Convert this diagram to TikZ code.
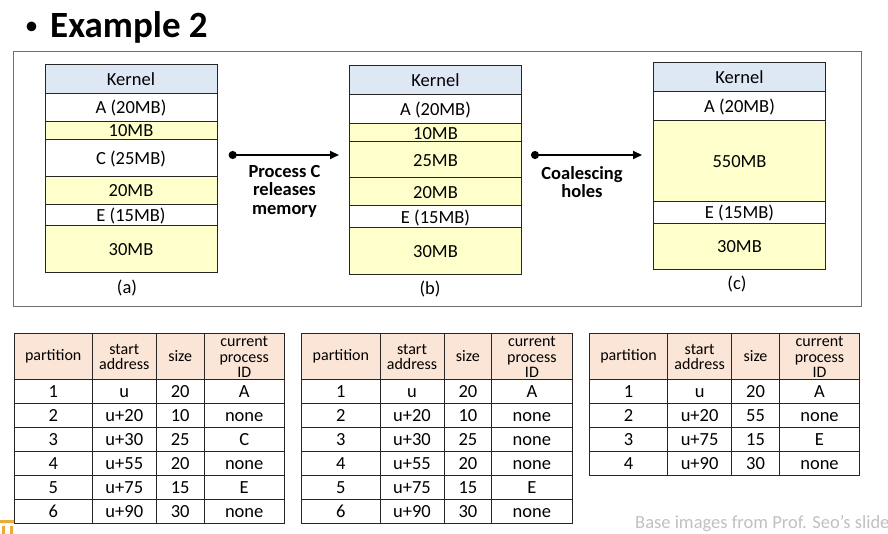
\documentclass[tikz,border=0pt]{standalone}
\usepackage{fontspec}
\setmainfont{Carlito}
\usetikzlibrary{arrows.meta}
\definecolor{kernelblue}{HTML}{DEE8F5}
\definecolor{holeyellow}{HTML}{FFFFCC}
\definecolor{headpeach}{HTML}{FBE5D6}
\definecolor{framegray}{HTML}{6F6F6F}
\definecolor{notegray}{HTML}{C0C0C0}
\definecolor{logoorange}{HTML}{F2A93B}
\begin{document}
\begin{tikzpicture}[x=1pt,y=-1pt,font=\fontsize{18.5}{18.5}\selectfont,
  seg/.style={draw=black!85,line width=0.8pt},
  lbl/.style={inner sep=0pt,text height=11.5pt,text depth=0pt},
  hd/.style={font=\fontsize{16}{15.5}\selectfont,align=center,inner sep=0pt},
  cell/.style={inner sep=0pt,text height=11.5pt,text depth=0pt},
  grid/.style={draw=black!85,line width=0.9pt},
  relarrow/.style={line width=2pt,arrows={Circle[length=8pt]-Stealth[length=9pt,width=8pt,inset=0pt]}},
  actnote/.style={font=\bfseries\fontsize{18.5}{18.5}\selectfont,align=center,inner sep=0pt}]
  \useasboundingbox (0,0) rectangle (888,534);
  % title
  \node[anchor=base,inner sep=0pt] (bullet) at (31.7,35) {\fontsize{27}{27}\selectfont •};
  \node[anchor=base west,inner sep=0pt,font=\bfseries\fontsize{37}{37}\selectfont] (title) at (50,37.5) {Example 2};
  \draw[framegray,line width=1pt] (13.5,51.5) rectangle (861,306.5);
  % memory layouts
  \foreach \t/\b/\txt/\f [count=\i] in {64/93.3/Kernel/kernelblue, 93.3/121/A (20MB)/white,
      121/139.3/10MB/holeyellow, 139.3/176/C (25MB)/white, 176/204/20MB/holeyellow,
      204/225.7/E (15MB)/white, 225.7/272.7/30MB/holeyellow} {
    \draw[seg,fill=\f] (45,\t) rectangle (217,\b);
    \node[lbl] (a\i) at (131,{(\t+\b)/2+0.8}) {\txt};
  }
  \node[lbl] (capa) at (127,288) {(a)};
  \foreach \t/\b/\txt/\f [count=\i] in {65/94.3/Kernel/kernelblue, 94.3/123.3/A (20MB)/white,
      123.3/141.7/10MB/holeyellow, 141.7/177.7/25MB/holeyellow, 177.7/205.7/20MB/holeyellow,
      205.7/227.7/E (15MB)/white, 227.7/274.3/30MB/holeyellow} {
    \draw[seg,fill=\f] (349.3,\t) rectangle (521.7,\b);
    \node[lbl] (b\i) at (435.5,{(\t+\b)/2+0.8}) {\txt};
  }
  \node[lbl] (capb) at (430,289) {(b)};
  \foreach \t/\b/\txt/\f [count=\i] in {62.3/91.7/Kernel/kernelblue, 91.7/120/A (20MB)/white,
      120/201/550MB/holeyellow, 201/223.3/E (15MB)/white, 223.3/269/30MB/holeyellow} {
    \draw[seg,fill=\f] (653.3,\t) rectangle (825.7,\b);
    \node[lbl] (c\i) at (739.5,{(\t+\b)/2+0.8}) {\txt};
  }
  \node[lbl] (capc) at (737,283.5) {(c)};
  % transitions
  \coordinate (relS) at (228.7,155);
  \coordinate (relE) at (339,155);
  \draw[relarrow] (relS) -- (relE);
  \node[actnote] (relnote) at (284.5,191) {Process C\\releases\\memory};
  \coordinate (coalS) at (531,155);
  \coordinate (coalE) at (642,155);
  \draw[relarrow] (coalS) -- (coalE);
  \node[actnote] (coalnote) at (582,182) {Coalescing\\holes};
  % partition tables
  \begin{scope}[xshift=14pt]
    \fill[headpeach] (0,333.3) rectangle (270.3,379.3);
    \node[hd] (t1h1) at (39.2,356.3) {partition};
    \node[hd] (t1h2) at (110.3,357) {start\\address};
    \node[hd] (t1h3) at (166.2,356.3) {size};
    \node[hd] (t1h4) at (230.2,357) {current\\process\\ID};
    \foreach \p/\s/\z/\c [count=\r] in {1/u/20/A, 2/u+20/10/none, 3/u+30/25/C,
        4/u+55/20/none, 5/u+75/15/E, 6/u+90/30/none} {
      \node[cell] (t1p\r) at (39.2,{367.3+24*\r}) {\p};
      \node[cell] (t1s\r) at (110.3,{367.3+24*\r}) {\s};
      \node[cell] (t1z\r) at (166.2,{367.3+24*\r}) {\z};
      \node[cell] (t1c\r) at (230.2,{367.3+24*\r}) {\c};
    }
    \draw[grid] (0,333.3) rectangle (270.3,523.3);
    \foreach \k in {0,...,5} \draw[grid] (0,{379.3+24*\k}) -- (270.3,{379.3+24*\k});
    \foreach \x in {78.3,142.3,190} \draw[grid] (\x,333.3) -- (\x,523.3);
  \end{scope}
  \begin{scope}[xshift=301.7pt]
    \fill[headpeach] (0,333.3) rectangle (270.3,379.3);
    \node[hd] (t2h1) at (39.2,356.3) {partition};
    \node[hd] (t2h2) at (110.3,357) {start\\address};
    \node[hd] (t2h3) at (166.2,356.3) {size};
    \node[hd] (t2h4) at (230.2,357) {current\\process\\ID};
    \foreach \p/\s/\z/\c [count=\r] in {1/u/20/A, 2/u+20/10/none, 3/u+30/25/none,
        4/u+55/20/none, 5/u+75/15/E, 6/u+90/30/none} {
      \node[cell] (t2p\r) at (39.2,{367.3+24*\r}) {\p};
      \node[cell] (t2s\r) at (110.3,{367.3+24*\r}) {\s};
      \node[cell] (t2z\r) at (166.2,{367.3+24*\r}) {\z};
      \node[cell] (t2c\r) at (230.2,{367.3+24*\r}) {\c};
    }
    \draw[grid] (0,333.3) rectangle (270.3,523.3);
    \foreach \k in {0,...,5} \draw[grid] (0,{379.3+24*\k}) -- (270.3,{379.3+24*\k});
    \foreach \x in {78.3,142.3,190} \draw[grid] (\x,333.3) -- (\x,523.3);
  \end{scope}
  \begin{scope}[xshift=589.3pt]
    \fill[headpeach] (0,333.3) rectangle (270.3,379.3);
    \node[hd] (t3h1) at (39.2,356.3) {partition};
    \node[hd] (t3h2) at (110.3,357) {start\\address};
    \node[hd] (t3h3) at (166.2,356.3) {size};
    \node[hd] (t3h4) at (230.2,357) {current\\process\\ID};
    \foreach \p/\s/\z/\c [count=\r] in {1/u/20/A, 2/u+20/55/none, 3/u+75/15/E, 4/u+90/30/none} {
      \node[cell] (t3p\r) at (39.2,{367.3+24*\r}) {\p};
      \node[cell] (t3s\r) at (110.3,{367.3+24*\r}) {\s};
      \node[cell] (t3z\r) at (166.2,{367.3+24*\r}) {\z};
      \node[cell] (t3c\r) at (230.2,{367.3+24*\r}) {\c};
    }
    \draw[grid] (0,333.3) rectangle (270.3,475.3);
    \foreach \k in {0,...,3} \draw[grid] (0,{379.3+24*\k}) -- (270.3,{379.3+24*\k});
    \foreach \x in {78.3,142.3,190} \draw[grid] (\x,333.3) -- (\x,475.3);
  \end{scope}
  % footer
  \node[anchor=west,inner sep=0pt,text=notegray] (credit) at (635,524) {Base images from Prof. Seo’s slide};
  \fill[logoorange] (0,520) rectangle (14,523) (2,526) rectangle (5,534) (10,526) rectangle (13,534);
\end{tikzpicture}
\end{document}
